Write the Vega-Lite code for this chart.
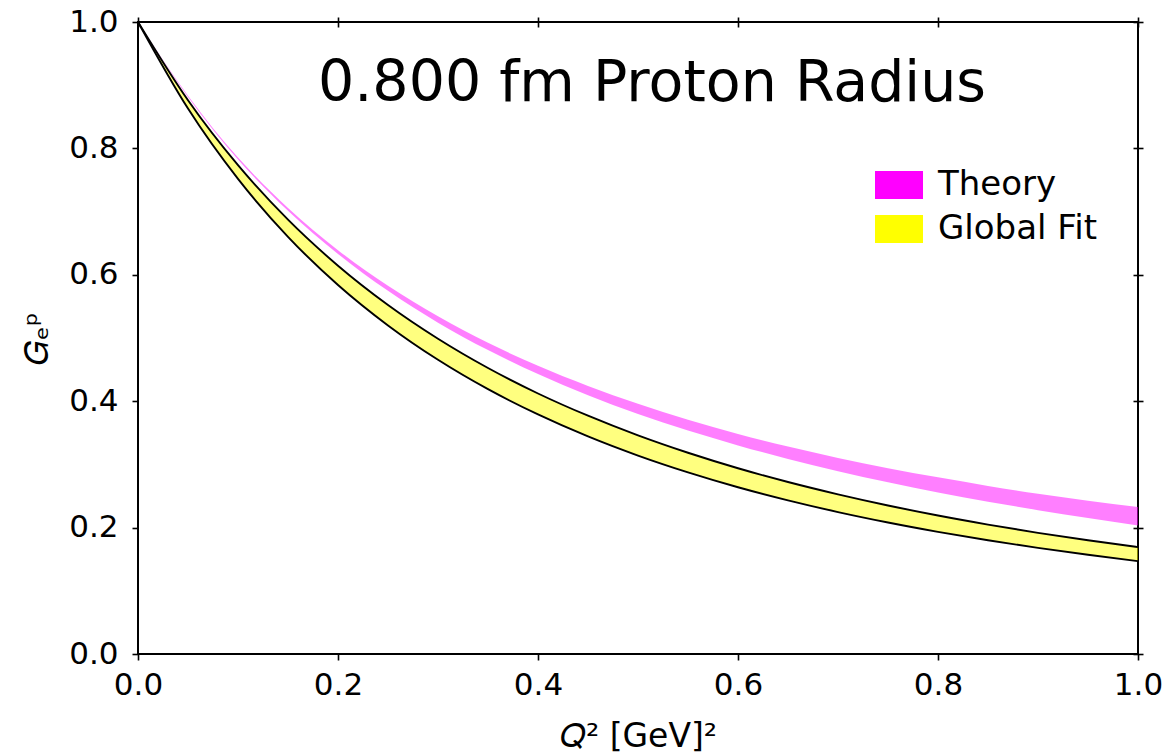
{
  "$schema": "https://vega.github.io/schema/vega-lite/v6.json",
  "width": 1000,
  "height": 632,
  "autosize": {"type": "none"},
  "padding": {"left": 138, "top": 22, "right": 34, "bottom": 99},
  "background": "white",
  "config": {
    "font": "DejaVu Sans",
    "view": {"stroke": "#000000", "strokeWidth": 2},
    "axis": {"grid": false, "domain": false, "labelFlush": false, "labelFont": "DejaVu Sans", "labelFontSize": 31, "labelColor": "#000000", "tickColor": "#000000", "tickWidth": 1.6, "titleFont": "DejaVu Sans", "titleFontWeight": "normal", "titleColor": "#000000", "titleFontSize": 33},
    "legend": {"orient": "none", "legendX": 737, "legendY": 139, "padding": 0, "title": null, "labelFont": "DejaVu Sans", "labelFontSize": 34, "labelColor": "#000000", "labelOffset": 15, "rowPadding": 3, "symbolType": "M-1,-0.58H1V0.58H-1Z", "symbolSize": 2304, "symbolStrokeWidth": 0, "symbolOpacity": 1}
  },
  "title": {"text": "0.800 fm Proton Radius", "fontSize": 57, "font": "DejaVu Sans", "fontWeight": "normal", "color": "#000000", "anchor": "middle", "orient": "top", "baseline": "alphabetic", "offset": -88, "dx": 14, "dy": 64},
  "datasets": {
    "bands": [
      {"q": 0.0, "series": "Theory", "lo": 1.0, "hi": 1.0},
      {"q": 0.05, "series": "Theory", "lo": 0.8815, "hi": 0.8835},
      {"q": 0.1, "series": "Theory", "lo": 0.7825, "hi": 0.7855},
      {"q": 0.15, "series": "Theory", "lo": 0.7013, "hi": 0.7058},
      {"q": 0.2, "series": "Theory", "lo": 0.633, "hi": 0.639},
      {"q": 0.25, "series": "Theory", "lo": 0.5746, "hi": 0.5826},
      {"q": 0.3, "series": "Theory", "lo": 0.5243, "hi": 0.5343},
      {"q": 0.35, "series": "Theory", "lo": 0.4809, "hi": 0.4924},
      {"q": 0.4, "series": "Theory", "lo": 0.4429, "hi": 0.4559},
      {"q": 0.45, "series": "Theory", "lo": 0.4095, "hi": 0.424},
      {"q": 0.5, "series": "Theory", "lo": 0.3798, "hi": 0.3958},
      {"q": 0.55, "series": "Theory", "lo": 0.3536, "hi": 0.3706},
      {"q": 0.6, "series": "Theory", "lo": 0.3301, "hi": 0.3481},
      {"q": 0.65, "series": "Theory", "lo": 0.3087, "hi": 0.3282},
      {"q": 0.7, "series": "Theory", "lo": 0.2892, "hi": 0.3102},
      {"q": 0.75, "series": "Theory", "lo": 0.2716, "hi": 0.2941},
      {"q": 0.8, "series": "Theory", "lo": 0.2555, "hi": 0.2795},
      {"q": 0.85, "series": "Theory", "lo": 0.241, "hi": 0.266},
      {"q": 0.9, "series": "Theory", "lo": 0.2276, "hi": 0.2536},
      {"q": 0.95, "series": "Theory", "lo": 0.2151, "hi": 0.2426},
      {"q": 1.0, "series": "Theory", "lo": 0.2035, "hi": 0.2325},
      {"q": 0.0, "series": "Global Fit", "lo": 1.0, "hi": 1.0},
      {"q": 0.05, "series": "Global Fit", "lo": 0.863, "hi": 0.8761},
      {"q": 0.1, "series": "Global Fit", "lo": 0.7517, "hi": 0.7734},
      {"q": 0.15, "series": "Global Fit", "lo": 0.6601, "hi": 0.6872},
      {"q": 0.2, "series": "Global Fit", "lo": 0.5839, "hi": 0.6144},
      {"q": 0.25, "series": "Global Fit", "lo": 0.5199, "hi": 0.5522},
      {"q": 0.3, "series": "Global Fit", "lo": 0.4655, "hi": 0.4988},
      {"q": 0.35, "series": "Global Fit", "lo": 0.419, "hi": 0.4525},
      {"q": 0.4, "series": "Global Fit", "lo": 0.379, "hi": 0.4122},
      {"q": 0.45, "series": "Global Fit", "lo": 0.3442, "hi": 0.377},
      {"q": 0.5, "series": "Global Fit", "lo": 0.3139, "hi": 0.3459},
      {"q": 0.55, "series": "Global Fit", "lo": 0.2873, "hi": 0.3184},
      {"q": 0.6, "series": "Global Fit", "lo": 0.2638, "hi": 0.2939},
      {"q": 0.65, "series": "Global Fit", "lo": 0.2431, "hi": 0.2721},
      {"q": 0.7, "series": "Global Fit", "lo": 0.2246, "hi": 0.2526},
      {"q": 0.75, "series": "Global Fit", "lo": 0.2081, "hi": 0.235},
      {"q": 0.8, "series": "Global Fit", "lo": 0.1933, "hi": 0.2191},
      {"q": 0.85, "series": "Global Fit", "lo": 0.1799, "hi": 0.2048},
      {"q": 0.9, "series": "Global Fit", "lo": 0.1679, "hi": 0.1917},
      {"q": 0.95, "series": "Global Fit", "lo": 0.157, "hi": 0.1799},
      {"q": 1.0, "series": "Global Fit", "lo": 0.147, "hi": 0.1691}
    ]
  },
  "data": {"name": "bands"},
  "resolve": {"axis": {"x": "independent", "y": "independent"}},
  "layer": [
    {
      "transform": [{"filter": "datum.series === 'Theory'"}],
      "mark": {"type": "area", "interpolate": "monotone", "fillOpacity": 0.5, "clip": true},
      "encoding": {
        "x": {"field": "q", "type": "quantitative", "scale": {"domain": [0, 1], "nice": false, "zero": false}, "axis": {"orient": "bottom", "values": [0, 0.2, 0.4, 0.6, 0.8, 1.0], "format": ".1f", "tickSize": 6, "labelPadding": 10, "title": "𝑄² [GeV]²", "titlePadding": 20}},
        "y": {"field": "hi", "type": "quantitative", "scale": {"domain": [0, 1], "nice": false, "zero": false}, "axis": {"orient": "left", "values": [0, 0.2, 0.4, 0.6, 0.8, 1.0], "format": ".1f", "tickSize": 6, "labelPadding": 14, "title": "𝐺ₑᵖ", "titlePadding": 14}},
        "y2": {"field": "lo"},
        "color": {"field": "series", "type": "nominal", "scale": {"domain": ["Theory", "Global Fit"], "range": ["#ff00ff", "#ffff00"]}, "legend": {}}
      }
    },
    {
      "transform": [{"filter": "datum.series === 'Global Fit'"}],
      "mark": {"type": "area", "interpolate": "monotone", "fillOpacity": 0.5, "clip": true},
      "encoding": {
        "x": {"field": "q", "type": "quantitative", "axis": null},
        "y": {"field": "hi", "type": "quantitative", "axis": null},
        "y2": {"field": "lo"},
        "color": {"field": "series", "type": "nominal"}
      }
    },
    {
      "transform": [{"filter": "datum.series === 'Global Fit'"}],
      "mark": {"type": "line", "interpolate": "monotone", "color": "#000000", "strokeWidth": 1.9, "clip": true},
      "encoding": {
        "x": {"field": "q", "type": "quantitative", "axis": {"orient": "top", "values": [0, 0.2, 0.4, 0.6, 0.8, 1.0], "labels": false, "tickSize": 10, "offset": -5, "title": null}},
        "y": {"field": "hi", "type": "quantitative", "axis": {"orient": "right", "values": [0, 0.2, 0.4, 0.6, 0.8, 1.0], "labels": false, "tickSize": 10, "offset": -5, "title": null}}
      }
    },
    {
      "transform": [{"filter": "datum.series === 'Global Fit'"}],
      "mark": {"type": "line", "interpolate": "monotone", "color": "#000000", "strokeWidth": 1.9, "clip": true},
      "encoding": {
        "x": {"field": "q", "type": "quantitative", "axis": null},
        "y": {"field": "lo", "type": "quantitative", "axis": null}
      }
    }
  ]
}
